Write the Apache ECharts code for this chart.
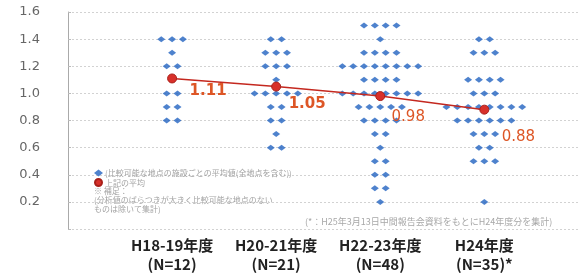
<!DOCTYPE html>
<html>
<head>
<meta charset="utf-8">
<script src="https://cdn.jsdelivr.net/npm/echarts@6/dist/echarts.min.js"></script>
<style>
  html, body { margin: 0; padding: 0; background: #fff; }
  #chart { width: 583px; height: 280px; }
</style>
</head>
<body>
<div id="chart"></div>
<script>
// categories and sample sizes
var categories = ['H18-19年度', 'H20-21年度', 'H22-23年度', 'H24年度'];
var sampleSizes = ['(N=12)', '(N=21)', '(N=48)', '(N=35)*'];

// value levels of the dots (top to bottom)
var levels = [1.5, 1.4, 1.3, 1.2, 1.1, 1.0, 0.9, 0.8, 0.7, 0.6, 0.5, 0.4, 0.3, 0.2];

// how many dots sit on each level, per category
var countsH1819 = [0, 3, 1, 2, 0, 2, 2, 2, 0, 0, 0, 0, 0, 0];
var countsH2021 = [0, 2, 3, 3, 1, 5, 2, 2, 1, 2, 0, 0, 0, 0];
var countsH2223 = [4, 1, 4, 8, 4, 8, 5, 4, 2, 1, 2, 2, 2, 1];
var countsH24   = [0, 2, 3, 0, 4, 3, 8, 6, 3, 2, 3, 0, 0, 1];

// averages
var means = [1.11, 1.05, 0.98, 0.88];

// y tick labels
var yTicks = ['0.2', '0.4', '0.6', '0.8', '1.0', '1.2', '1.4', '1.6'];

var legendNames = ['(比較可能な地点の施設ごとの平均値(全地点を含む))', '上記の平均'];

var dotStep = 0.104; // horizontal spacing of stacked dots, in x units

var allCounts = [countsH1819, countsH2021, countsH2223, countsH24];
var dots = [];
allCounts.forEach(function (counts, ci) {
  counts.forEach(function (n, li) {
    for (var j = 0; j < n; j++) {
      dots.push([ci + 1 + (j - (n - 1) / 2) * dotStep, levels[li]]);
    }
  });
});

var labelOffsets = [[36, 13], [31, 18], [28, 21], [34, 27]];
var labelWeights = ['bold', 'bold', 'normal', 'normal'];
var meanData = means.map(function (v, i) {
  return {
    value: [i + 1, v],
    label: { offset: labelOffsets[i], fontWeight: labelWeights[i] }
  };
});

var chart = echarts.init(document.getElementById('chart'));
chart.setOption({
  animation: false,
  grid: { left: 68, top: 12, width: 510, height: 217 },
  legend: {
    orient: 'vertical',
    left: 94,
    top: 169,
    itemWidth: 9,
    itemHeight: 7,
    itemGap: 1,
    padding: 0,
    textStyle: { fontSize: 8, color: '#a3a3a3', fontFamily: 'Noto Sans CJK JP', padding: [0, 0, 0, -3] },
    data: [
      { name: legendNames[0], icon: 'diamond' },
      { name: legendNames[1], icon: 'circle' }
    ]
  },
  xAxis: {
    type: 'value',
    min: 0,
    max: 4.9,
    axisLine: { show: false },
    axisTick: { show: false },
    splitLine: { show: false },
    axisLabel: {
      customValues: [1, 2, 3, 4],
      margin: 7,
      formatter: function (v) {
        var i = Math.round(v) - 1;
        return '{a|' + categories[i] + '}\n{a|' + sampleSizes[i] + '}';
      },
      rich: {
        a: { fontSize: 15, fontWeight: 'bold', color: '#222', lineHeight: 19, fontFamily: 'Noto Sans CJK JP' }
      }
    }
  },
  yAxis: {
    type: 'value',
    min: 0,
    max: 1.6,
    interval: 0.2,
    axisLine: { show: true, lineStyle: { color: '#aaa', width: 1 } },
    axisTick: { show: true, inside: true, length: 3, lineStyle: { color: '#bbb' } },
    splitLine: { show: true, lineStyle: { color: '#d2d2d2', type: [2, 2] } },
    axisLabel: {
      margin: 28,
      fontSize: 13,
      color: '#666',
      fontFamily: 'DejaVu Sans',
      formatter: function (v) {
        var s = v.toFixed(1);
        return yTicks.indexOf(s) >= 0 ? s : '';
      }
    }
  },
  series: [
    {
      name: legendNames[0],
      type: 'scatter',
      symbol: 'diamond',
      symbolSize: [8, 6],
      itemStyle: { color: '#2263c0' },
      data: dots,
      z: 2
    },
    {
      name: legendNames[1],
      type: 'line',
      symbol: 'circle',
      symbolSize: 9,
      lineStyle: { color: '#c4281f', width: 1.5 },
      itemStyle: { color: '#d8302a', borderColor: '#a8201a', borderWidth: 1 },
      label: {
        show: true,
        position: 'inside',
        fontSize: 15,
        color: '#dd5626',
        fontFamily: 'DejaVu Sans',
        formatter: function (p) { return p.value[1].toFixed(2); }
      },
      data: meanData,
      z: 3
    }
  ],
  graphic: [
    {
      type: 'group',
      left: 94,
      top: 187,
      children: [
        { type: 'text', left: 0, top: 0, style: { text: '※ 補足：', fontSize: 8, fill: '#a3a3a3', fontFamily: 'Noto Sans CJK JP' } },
        { type: 'text', left: 0, top: 9, style: { text: '(分析値のばらつきが大きく比較可能な地点のない', fontSize: 8, fill: '#a3a3a3', fontFamily: 'Noto Sans CJK JP' } },
        { type: 'text', left: 0, top: 18, style: { text: 'ものは除いて集計)', fontSize: 8, fill: '#a3a3a3', fontFamily: 'Noto Sans CJK JP' } }
      ]
    },
    {
      type: 'text',
      left: 305,
      top: 217,
      style: { text: '(*：H25年3月13日中間報告会資料をもとにH24年度分を集計)', fontSize: 9, fill: '#a8a8a8', fontFamily: 'Noto Sans CJK JP' }
    }
  ]
});
</script>
</body>
</html>
